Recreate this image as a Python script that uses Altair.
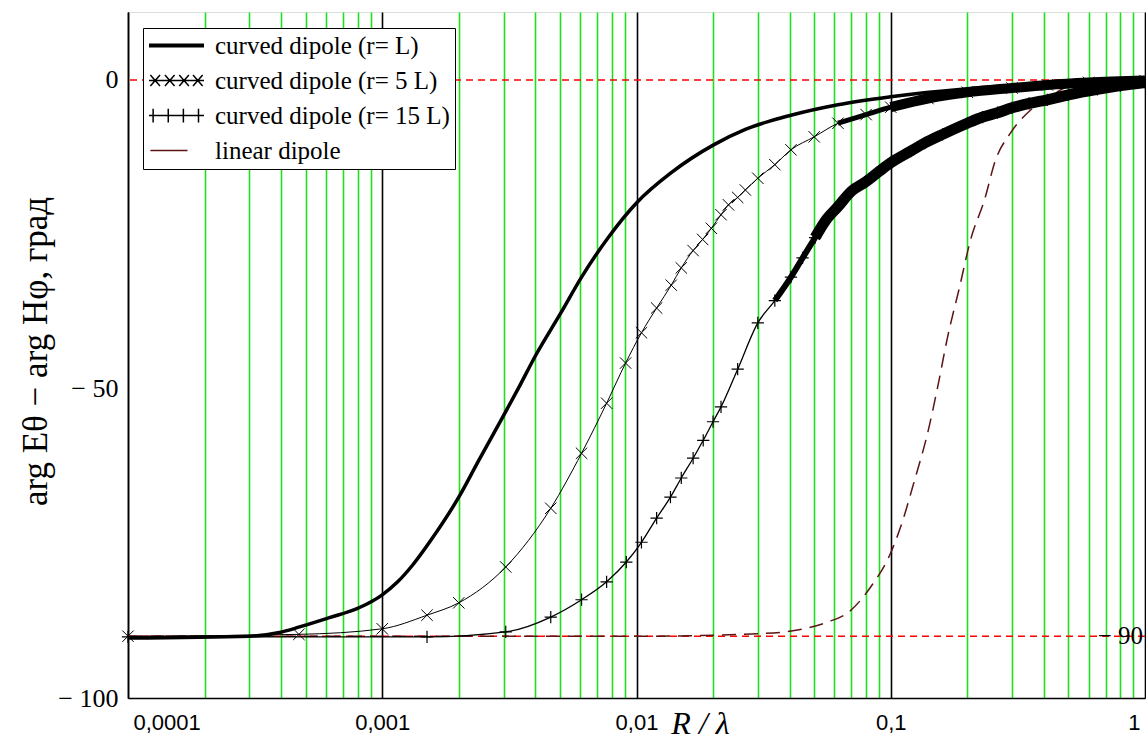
import altair as alt
import pandas as pd

series_names = ["curved dipole (r= L)", "curved dipole (r= 5 L)",
                "curved dipole (r= 15 L)", "linear dipole"]

# curved dipole, r = L (thick solid)
r1_x = [0.0001, 0.0003, 0.000394, 0.000473, 0.00062, 0.00081, 0.001, 0.00115, 0.00131,
        0.00157, 0.002, 0.0024, 0.00301, 0.00345, 0.00402, 0.00504, 0.00608,
        0.00777, 0.01, 0.0137, 0.0201, 0.0268, 0.0405, 0.062, 0.1, 0.2, 0.413, 1.0]
r1_y = [-90.3, -90.0, -89.4, -88.5, -87.0, -85.4, -83.3, -81.2, -78.6,
        -74.2, -67.5, -61.5, -54.2, -49.7, -44.5, -37.7, -31.9,
        -25.4, -19.9, -15.0, -10.5, -8.0, -5.7, -4.0, -2.7, -1.4, -0.6, -0.2]

# curved dipole, r = 5L (thin, x markers)
r5_x = [0.0001, 0.00047, 0.001, 0.0015, 0.002, 0.00306, 0.0046, 0.00608, 0.00763,
        0.00906, 0.01046, 0.012, 0.0137, 0.015, 0.0167, 0.0182, 0.0197, 0.0215,
        0.023, 0.025, 0.0268, 0.03, 0.035, 0.0405, 0.05, 0.062, 0.08, 0.1, 0.14,
        0.2, 0.3, 0.413, 0.6, 1.0]
r5_y = [-90.0, -89.7, -88.8, -86.6, -84.6, -78.8, -69.3, -60.4, -52.3,
        -45.8, -40.9, -36.9, -33.2, -30.4, -27.6, -25.8, -24.0, -21.8,
        -20.2, -19.0, -17.8, -15.9, -13.7, -11.3, -9.2, -7.0, -5.6, -4.4, -3.0,
        -2.0, -1.3, -0.8, -0.4, -0.1]

# curved dipole, r = 15L (thin, + markers)
r15_x = [0.0001, 0.0015, 0.00306, 0.0046, 0.00608, 0.00763, 0.00912, 0.01046,
         0.012, 0.0136, 0.015, 0.0167, 0.0183, 0.02, 0.0215, 0.025, 0.03, 0.035,
         0.0405, 0.045, 0.0504, 0.056, 0.062, 0.07, 0.079, 0.09, 0.1, 0.12, 0.136,
         0.16, 0.2, 0.23, 0.263, 0.3, 0.35, 0.413, 0.5, 0.65, 0.8, 1.0]
r15_y = [-90.1, -90.1, -89.3, -86.9, -84.1, -81.2, -78.0, -74.8,
         -70.9, -67.5, -64.4, -61.2, -58.3, -55.3, -52.9, -46.8, -39.3, -35.7,
         -31.9, -28.8, -25.5, -22.5, -20.5, -18.0, -16.6, -14.8, -13.4, -11.5, -10.2,
         -8.8, -7.0, -6.0, -5.3, -4.5, -3.8, -3.2, -2.4, -1.5, -0.9, -0.4]

# linear dipole (dark red dashed)
lin_x = [0.0001, 0.01, 0.03, 0.043, 0.0566, 0.0678, 0.0835, 0.1, 0.1094, 0.1242,
         0.1397, 0.1529, 0.1673, 0.1865, 0.2059, 0.2337, 0.2581, 0.2955, 0.354,
         0.4128, 0.5561, 1.0]
lin_y = [-90.0, -90.0, -89.6, -89.0, -87.7, -86.2, -82.0, -76.5, -72.3, -64.7,
         -57.1, -49.7, -41.6, -33.5, -25.9, -19.4, -13.0, -8.6, -4.9,
         -2.9, -0.5, 0.0]

decade_vals = [0.0001, 0.001, 0.01, 0.1, 1]
decade_labels = ["0,0001", "0,001", "0,01", "0,1", "1"]
y_tick_vals = [-100, -50, 0]
y_tick_labels = ["− 100", "− 50", "0"]
ref_levels = [0, -90]
ref_text = ["− 90"]

# ---------------------------------------------------------------
minor_vals = [m * d for d in decade_vals[:-1] for m in range(2, 10)]
grid_vals = sorted(decade_vals + minor_vals)

x_expr = ""
for v, lab in zip(decade_vals, decade_labels):
    x_expr += f"abs(datum.value/{v}-1) < 1e-6 ? '{lab}' : "
x_expr += "''"
y_expr = ""
for v, lab in zip(y_tick_vals, y_tick_labels):
    y_expr += f"datum.value == {v} ? '{lab}' : "
y_expr += "''"

xscale = alt.Scale(type="log", domain=[0.0001, 1], nice=False)
yscale = alt.Scale(domain=[-100, 11], nice=False, zero=False)

xaxis = alt.Axis(
    values=grid_vals, labelExpr=x_expr, grid=True,
    gridColor={"condition": {"test": "abs(log(datum.value)/LN10 - round(log(datum.value)/LN10)) < 1e-6",
                             "value": "black"}, "value": "#1ee01e"},
    gridWidth=1.6, gridOpacity=1, ticks=False, domainColor="black", domainWidth=1.5,
    labelFont="Liberation Sans", labelFontSize=22, labelColor="black", labelPadding=14,
    labelOverlap=False, labelFlush=True, labelFlushOffset=-5,
    title="R / λ", titleFont="Liberation Serif", titleFontStyle="italic",
    titleFontSize=32, titleFontWeight="normal", titleColor="black",
    titleX=572, titleY=35, titleAlign="center", titleBaseline="alphabetic")
yaxis = alt.Axis(
    values=y_tick_vals, labelExpr=y_expr, grid=False, ticks=False,
    domainColor="black", domainWidth=1.5,
    labelFont="Liberation Serif", labelFontSize=26, labelColor="black", labelPadding=10,
    title="arg Eθ − arg Hφ, град", titleFont="Liberation Serif", titleFontSize=35,
    titleFontWeight="normal", titleColor="black", titleX=-82, titleY=339,
    titleAlign="center", titleBaseline="alphabetic", titleAngle=270)

X = alt.X("x:Q", scale=xscale, axis=xaxis)
Y = alt.Y("y:Q", scale=yscale, axis=yaxis)

df1 = pd.DataFrame({"x": r1_x, "y": r1_y})
df5 = pd.DataFrame({"x": r5_x, "y": r5_y})
df15 = pd.DataFrame({"x": r15_x, "y": r15_y})
dfl = pd.DataFrame({"x": lin_x, "y": lin_y})
dfref = pd.DataFrame({"y": ref_levels})
dftxt = pd.DataFrame({"x": [decade_vals[-1]], "y": [ref_levels[1]], "t": ref_text})
dfleg = pd.DataFrame({"series": series_names, "x": [None] * 4, "y": [None] * 4})

xmark = "M-1,-1L1,1M-1,1L1,-1"
pmark = "M0,-1V1M-1,0H1"

ref = alt.Chart(dfref).mark_rule(color="#ff0000", strokeWidth=1.5, strokeDash=[7, 5]).encode(y=Y)
lin = alt.Chart(dfl).mark_line(color="#5c1414", strokeWidth=1.5, strokeDash=[14, 8],
                               interpolate="monotone").encode(x=X, y=Y)
l15 = alt.Chart(df15).mark_line(color="black", strokeWidth=1.3, interpolate="monotone").encode(x=X, y=Y)
# dense markers merge into a thick band in the upper part
b15a = alt.Chart(df15).transform_filter("datum.x >= 0.035").mark_line(
    color="black", strokeWidth=6, interpolate="monotone").encode(x=X, y=Y)
b15b = alt.Chart(df15).transform_filter("datum.x >= 0.05").mark_line(
    color="black", strokeWidth=11, interpolate="monotone").encode(x=X, y=Y)
p15 = alt.Chart(df15).mark_point(shape=pmark, size=150, filled=False, color="black",
                                 strokeWidth=1.2, opacity=1).encode(x=X, y=Y)
l5 = alt.Chart(df5).mark_line(color="black", strokeWidth=1.0, interpolate="monotone").encode(x=X, y=Y)
b5a = alt.Chart(df5).transform_filter("datum.x >= 0.06").mark_line(
    color="black", strokeWidth=5, interpolate="monotone").encode(x=X, y=Y)
b5b = alt.Chart(df5).transform_filter("datum.x >= 0.1").mark_line(
    color="black", strokeWidth=10, interpolate="monotone").encode(x=X, y=Y)
p5 = alt.Chart(df5).mark_point(shape=xmark, size=130, filled=False, color="black",
                               strokeWidth=1.0, opacity=1).encode(x=X, y=Y)
l1 = alt.Chart(df1).mark_line(color="black", strokeWidth=3.5, interpolate="monotone").encode(x=X, y=Y)
txt = alt.Chart(dftxt).mark_text(align="right", baseline="middle", font="Liberation Serif",
                                 fontSize=25, color="black", dx=-2).encode(x=X, y=Y, text="t:N")

legend_paths = [
    "M-1,0H1M-1,-0.045H1M-1,0.045H1",
    "M-1,0H1M-0.95,-0.2L-0.6,0.2M-0.95,0.2L-0.6,-0.2M-0.42,-0.2L-0.07,0.2M-0.42,0.2L-0.07,-0.2"
    "M0.1,-0.2L0.45,0.2M0.1,0.2L0.45,-0.2M0.6,-0.2L0.95,0.2M0.6,0.2L0.95,-0.2",
    "M-1,0H1M-0.85,-0.25V0.25M-0.3,-0.25V0.25M0.25,-0.25V0.25M0.8,-0.25V0.25",
    "M-0.95,0H0.4",
]
leg = alt.Legend(orient="none", legendX=15, legendY=16, title=None,
                 labelFont="Liberation Serif", labelFontSize=25, labelColor="black",
                 labelLimit=0, labelOffset=10, padding=5, rowPadding=9, clipHeight=25,
                 strokeColor="black", fillColor="white", symbolStrokeWidth=1.5,
                 symbolSize=3025)
legend_layer = alt.Chart(dfleg).mark_point(size=3025, filled=False, strokeWidth=1.5, opacity=1).encode(
    x=X, y=Y,
    color=alt.Color("series:N", scale=alt.Scale(domain=series_names,
                                                range=["black", "black", "black", "#5c1414"]), legend=leg),
    shape=alt.Shape("series:N", scale=alt.Scale(domain=series_names, range=legend_paths), legend=leg),
)

chart = alt.layer(ref, lin, b15a, b15b, l15, p15, b5a, b5b, l5, p5, l1, txt, legend_layer).properties(
    width=1017, height=686,
    autosize=alt.AutoSizeParams(type="none"),
    padding={"left": 128, "top": 12, "right": 1, "bottom": 44},
).configure_view(stroke=None).configure(background="white")

chart.save("out.html", embed_options={"renderer": "svg", "actions": False})
